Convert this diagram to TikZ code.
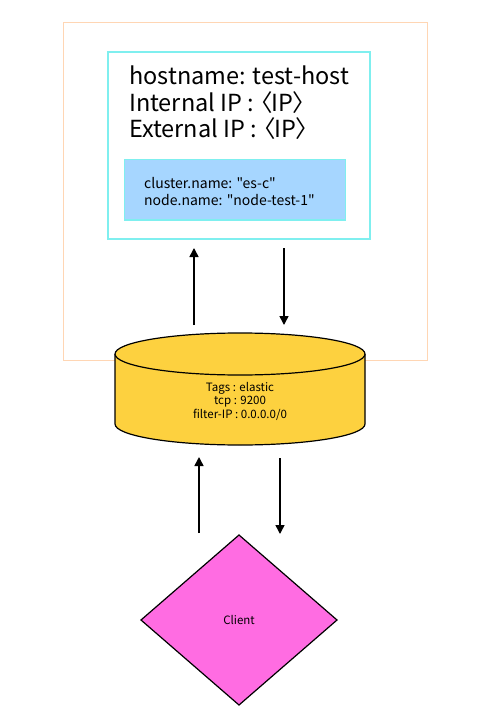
\documentclass[tikz,border=0pt]{standalone}
\usepackage{fontspec}
\setmainfont{Noto Sans CJK KR}[Ligatures=TeXOff]
\usetikzlibrary{arrows.meta,shapes.geometric}
\definecolor{orangeline}{HTML}{FFD6B4}
\definecolor{cyanline}{HTML}{7FEFEF}
\definecolor{bluefill}{HTML}{A6D6FF}
\definecolor{cylfill}{HTML}{FDD13F}
\definecolor{clientfill}{HTML}{FF6CE2}
\newcommand{\lang}{\kern-0.42em〈\kern-0.05em}
\newcommand{\rang}{\kern-0.05em〉}
\tikzset{
  conn/.style={-{Triangle[length=9pt,width=9pt]}, line width=1.5pt},
  txt/.style={inner sep=0pt, align=left, anchor=north west},
}
\begin{document}
\begin{tikzpicture}[x=1pt,y=-1pt]
\useasboundingbox (0,0) rectangle (478,719);
% outer host box
\node[draw=orangeline, line width=1pt, minimum width=364pt, minimum height=337pt, inner sep=0pt] (host) at (245,191.5) {};
% cyan box
\node[draw=cyanline, line width=1.2pt, minimum width=262pt, minimum height=187pt, inner sep=0pt] (vm) at (239,145.5) {};
\node[txt, font=\fontsize{23.5}{26.5}\selectfont] (info) at (129,66) {hostname: test-host\\Internal IP : \lang IP\rang\\External IP : \lang IP\rang};
% blue box
\node[draw=cyanline, fill=bluefill, line width=1pt, minimum width=221pt, minimum height=60pt, inner sep=0pt] (es) at (234.5,190) {};
\node[txt, font=\fontsize{14}{17}\selectfont] (esinfo) at (144,177) {cluster.name: "es-c"\\node.name: "node-test-1"};
% cylinder
\fill[cylfill] (115,354) -- (115,424) arc[start angle=180,end angle=0,x radius=125,y radius=21] -- (365,354) -- cycle;
\draw[line width=1.2pt] (115,354) -- (115,424) arc[start angle=180,end angle=0,x radius=125,y radius=21] -- (365,354);
\draw[line width=1.2pt, fill=cylfill] (240,354) ellipse[x radius=125, y radius=21];
\node[font=\fontsize{11.5}{13.5}\selectfont, align=center, inner sep=0pt] (sg) at (240,401) {Tags : elastic\\tcp : 9200\\filter-IP : 0.0.0.0/0};
% client diamond
\draw[fill=clientfill, line width=1.2pt] (239,535) -- (337,620) -- (239,705) -- (141,620) -- cycle;
\node[font=\fontsize{11.5}{13}\selectfont, inner sep=0pt] (client) at (239,620) {Client};
% arrows
\coordinate (a1s) at (194,325); \coordinate (a1e) at (194,248);
\coordinate (a2s) at (284,248); \coordinate (a2e) at (284,325);
\coordinate (a3s) at (199,533); \coordinate (a3e) at (199,457);
\coordinate (a4s) at (280,458); \coordinate (a4e) at (280,534);
\draw[conn] (a1s) -- (a1e);
\draw[conn] (a2s) -- (a2e);
\draw[conn] (a3s) -- (a3e);
\draw[conn] (a4s) -- (a4e);
\end{tikzpicture}
\end{document}
